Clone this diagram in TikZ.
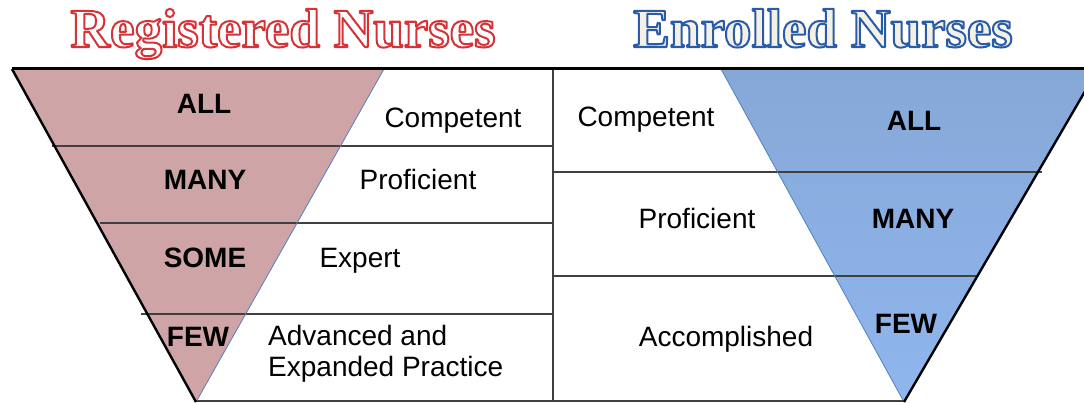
\documentclass[tikz,border=0pt]{standalone}
\usepackage{fontspec}
\setmainfont{Liberation Sans}
\newfontfamily\titlefont{Liberation Serif}
\definecolor{rnfill}{RGB}{207,164,166}
\definecolor{entop}{RGB}{134,168,215}
\definecolor{enbot}{RGB}{143,182,238}
\definecolor{sepgray}{RGB}{64,64,64}
\definecolor{edgeblue}{RGB}{79,129,189}
\definecolor{titlecream}{RGB}{244,240,228}
% outlined text: fill in current colour, stroke in given RGB (0..1)
\newcommand{\outlinetext}[2]{\special{pdf:literal 2 Tr 2 w 1 j #1 RG}#2\special{pdf:literal 0 Tr}}
\tikzset{
  sepline/.style={draw=sepgray,line width=2pt},
  thinedge/.style={draw=edgeblue,line width=0.8pt},
  blackedge/.style={draw=black,line width=2.4pt},
  topline/.style={draw=black,line width=3pt},
  lbl/.style={font=\fontsize{28}{31}\selectfont,inner sep=0pt,anchor=base},
  boldlbl/.style={font=\fontsize{28}{31}\selectfont\bfseries,inner sep=0pt,anchor=base},
  titletext/.style={font=\titlefont\bfseries\fontsize{55}{60}\selectfont,inner sep=0pt,anchor=base},
}
\begin{document}
\begin{tikzpicture}[x=1pt,y=-1pt]
\useasboundingbox (0,0) rectangle (1084,403);
\clip (0,0) rectangle (1084,403);
% corner coordinates
\coordinate (rnTL) at (12,69);
\coordinate (rnTR) at (384,69);
\coordinate (rnApex) at (196,402);
\coordinate (enTL) at (721,69);
\coordinate (enTR) at (1098,69);
\coordinate (enApex) at (904,402);
\coordinate (topR) at (1084,69);
\coordinate (divT) at (553,69);
\coordinate (divB) at (553,402);
% fills
\fill[rnfill] (rnTL) -- (rnTR) -- (rnApex) -- cycle;
\shade[top color=entop,bottom color=enbot] (enTL) -- (enTR) -- (enApex) -- cycle;
% separators
\coordinate (a1) at (52,146);  \coordinate (a2) at (553,146);
\coordinate (b1) at (100,223); \coordinate (b2) at (553,223);
\coordinate (c1) at (141,314); \coordinate (c2) at (553,314);
\coordinate (d1) at (553,172); \coordinate (d2) at (1042,172);
\coordinate (e1) at (553,276); \coordinate (e2) at (977,276);
\coordinate (f1) at (196,401); \coordinate (f2) at (904,401);
\draw[sepline] (a1) -- (a2);
\draw[sepline] (b1) -- (b2);
\draw[sepline] (c1) -- (c2);
\draw[sepline] (d1) -- (d2);
\draw[sepline] (e1) -- (e2);
\draw[sepline] (f1) -- (f2);
\draw[sepline] (divT) -- (divB);
% triangle edges
\draw[thinedge] (rnTR) -- (rnApex);
\draw[thinedge] (enTL) -- (enApex);
\draw[blackedge] (rnTL) -- (rnApex);
\draw[blackedge] (enTR) -- (enApex);
\draw[topline] (rnTL) -- (topR);
% titles
\node[titletext,text=white] (rnTitle) at (283,47) {\outlinetext{0.84 0.20 0.22}{Registered Nurses}};
\node[titletext,text=titlecream] (enTitle) at (823,47) {\outlinetext{0.16 0.36 0.66}{Enrolled Nurses}};
% RN labels
\node[boldlbl] (rnAll) at (204,114) {ALL};
\node[lbl] (rnComp) at (453,128) {Competent};
\node[boldlbl] (rnMany) at (205,190) {MANY};
\node[lbl] (rnProf) at (418,190) {Proficient};
\node[boldlbl] (rnSome) at (205,268) {SOME};
\node[lbl] (rnExp) at (360,268) {Expert};
\node[boldlbl] (rnFew) at (198,346) {FEW};
\node[font=\fontsize{28}{31}\selectfont,inner sep=0pt,align=left,anchor=north west] (rnAdv) at (268,325.5) {Advanced and\\Expanded Practice};
% EN labels
\node[lbl] (enComp) at (646,127) {Competent};
\node[boldlbl] (enAll) at (914,131) {ALL};
\node[lbl] (enProf) at (697,229) {Proficient};
\node[boldlbl] (enMany) at (913,229) {MANY};
\node[lbl] (enAcc) at (726,346) {Accomplished};
\node[boldlbl] (enFew) at (906,333) {FEW};
\end{tikzpicture}
\end{document}
